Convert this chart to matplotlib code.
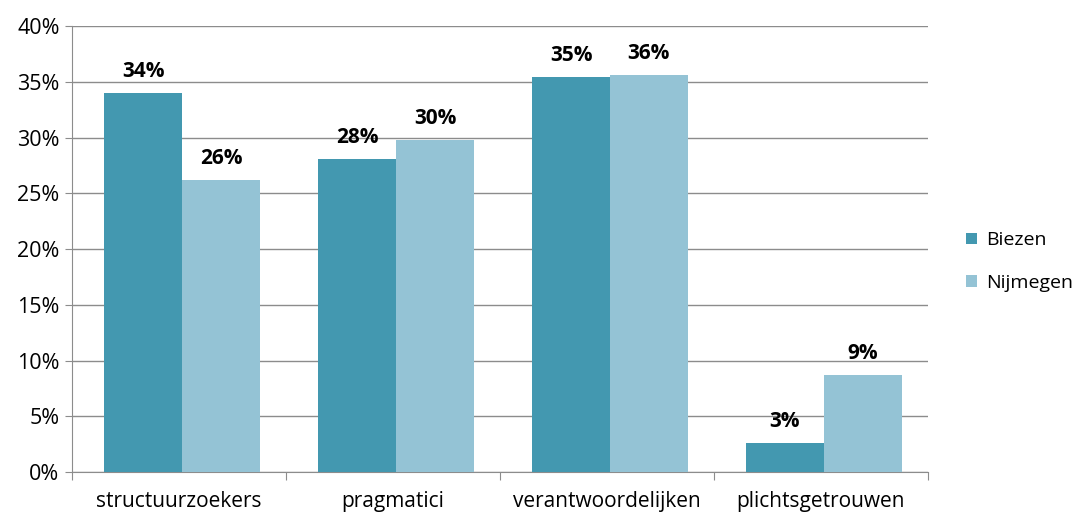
import matplotlib
matplotlib.use("Agg")
import matplotlib.pyplot as plt
import numpy as np

categories = ['structuurzoekers', 'pragmatici', 'verantwoordelijken', 'plichtsgetrouwen']
biezen = [34.0, 28.1, 35.4, 2.6]
nijmegen = [26.2, 29.8, 35.6, 8.7]
series_names = ['Biezen', 'Nijmegen']
yticks = [0, 5, 10, 15, 20, 25, 30, 35, 40]

plt.rcParams['font.family'] = ['Open Sans', 'DejaVu Sans']

fig = plt.figure(figsize=(10.83, 5.13), dpi=100)
ax = fig.add_axes([0.0665, 0.080, 0.790, 0.869])

x = np.arange(len(categories)) + 0.515
w = 0.364
c1 = '#4398B0'
c2 = '#94C3D5'
b1 = ax.bar(x - w/2, biezen, w, color=c1, label=series_names[0], zorder=3)
b2 = ax.bar(x + w/2, nijmegen, w, color=c2, label=series_names[1], zorder=3)

for bars, vals in [(b1, biezen), (b2, nijmegen)]:
    for b, v in zip(bars, vals):
        ax.annotate('%d%%' % round(v), (b.get_x() + b.get_width()/2, v),
                    xytext=(0, 8), textcoords='offset points',
                    ha='center', va='bottom', fontsize=15, fontweight='bold')

ax.set_xlim(0, 4)
ax.set_ylim(0, 40)
ax.set_yticks(yticks)
ax.set_yticklabels(['%d%%' % t for t in yticks], fontsize=15.5)
ax.yaxis.grid(True, color='#8c8c8c', linewidth=1, zorder=0)
ax.set_axisbelow(True)

ax.set_xticks(np.arange(0, 5))
ax.set_xticklabels([])
ax.set_xticks(np.arange(len(categories)) + 0.5, minor=True)
ax.set_xticklabels(categories, minor=True, fontsize=15)
ax.tick_params(axis='x', which='minor', length=0, pad=14)
ax.tick_params(axis='x', which='major', length=6, color='#8c8c8c')
ax.tick_params(axis='y', length=5, color='#8c8c8c', pad=4)

for s in ['top', 'right']:
    ax.spines[s].set_visible(False)
for s in ['left', 'bottom']:
    ax.spines[s].set_color('#8c8c8c')

fig.legend(handles=[b1, b2], loc='center left', bbox_to_anchor=(0.876, 0.49),
           frameon=False, fontsize=14, handlelength=0.55, handleheight=0.55,
           handletextpad=0.45, labelspacing=1.25)

fig.savefig('out.png', dpi=100)
